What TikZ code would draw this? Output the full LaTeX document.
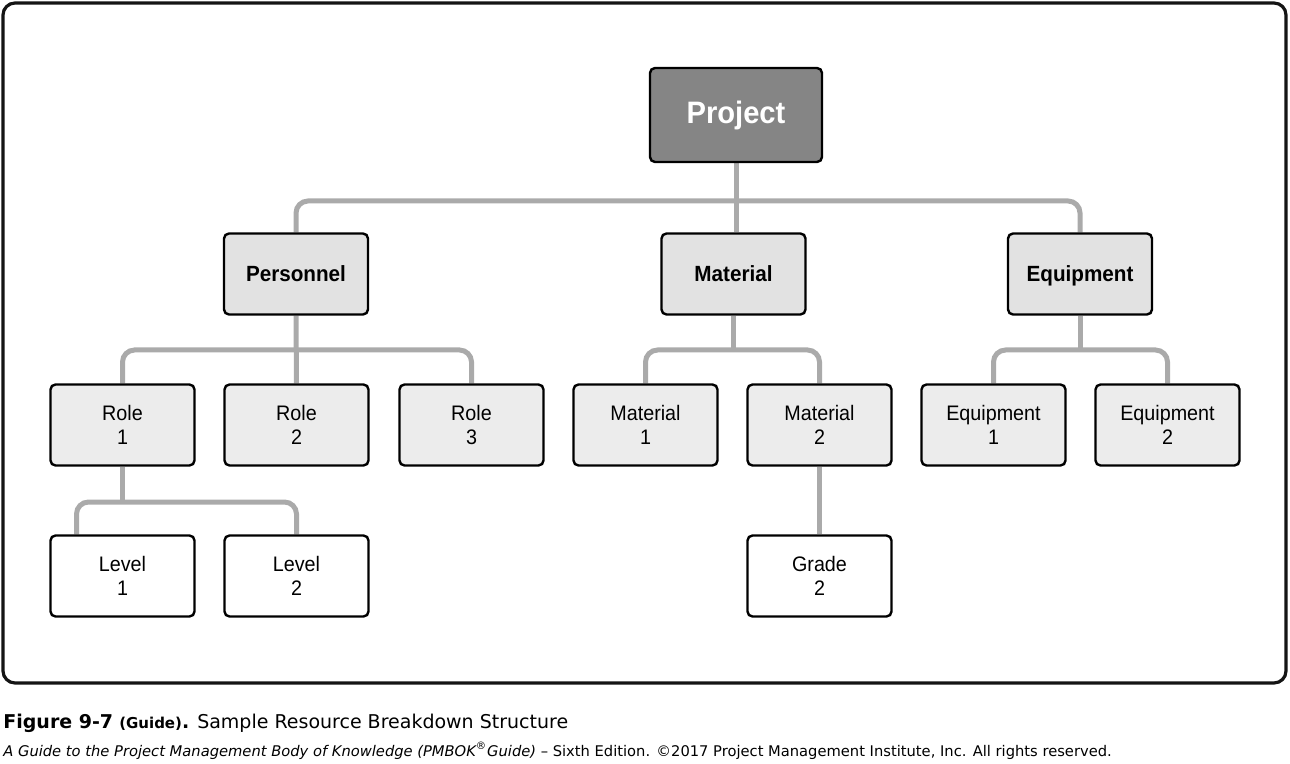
\documentclass[tikz,border=0pt]{standalone}
\usepackage{fontspec}
\setmainfont{Liberation Sans}
\newfontfamily\boxfont[FakeStretch=0.94]{Liberation Sans}
\newfontfamily\capfont{DejaVu Sans}
\usetikzlibrary{backgrounds}
\definecolor{rbsframe}{RGB}{20,20,20}
\definecolor{rbslink}{RGB}{170,170,170}
\definecolor{rbstop}{RGB}{133,133,133}
\definecolor{rbscat}{RGB}{226,226,226}
\definecolor{rbssub}{RGB}{236,236,236}

\begin{document}
\begin{tikzpicture}[x=0.5pt, y=-0.5pt,
  box/.style={draw=black, line width=1.2pt, rounded corners=2.5pt, minimum width=72pt, minimum height=40.5pt, align=center, inner sep=0pt},
  topbox/.style={box, fill=rbstop, text=white, minimum width=86pt, minimum height=47pt, font=\boxfont\bfseries\fontsize{15.5}{18}\selectfont},
  catbox/.style={box, fill=rbscat, text height=10.4pt, text depth=2.5pt, font=\boxfont\bfseries\fontsize{11}{13}\selectfont},
  subbox/.style={box, fill=rbssub, font=\boxfont\fontsize{10.5}{12}\selectfont},
  leafbox/.style={box, fill=white, font=\boxfont\fontsize{10.5}{12}\selectfont},
  link/.style={draw=rbslink, line width=2.5pt, rounded corners=6pt}]
  \useasboundingbox (0,0) rectangle (1290,764);
  \draw[rbsframe, line width=1.6pt, rounded corners=6pt] (3,3) rectangle (1286,683);

  % top and categories
  \node[topbox] (proj) at (736,115) {Project};
  \node[catbox] (pers) at (296,274) {Personnel};
  \node[catbox] (mat) at (733.5,274) {Material};
  \node[catbox] (equip) at (1080,274) {Equipment};

  % resources
  \node[subbox] (role1) at (122.5,425) {Role\\1};
  \node[subbox] (role2) at (296.5,425) {Role\\2};
  \node[subbox] (role3) at (471.5,425) {Role\\3};
  \node[subbox] (mat1) at (645.5,425) {Material\\1};
  \node[subbox] (mat2) at (819.5,425) {Material\\2};
  \node[subbox] (eq1) at (993.5,425) {Equipment\\1};
  \node[subbox] (eq2) at (1167.5,425) {Equipment\\2};

  % lowest level
  \node[leafbox] (lev1) at (122.5,576) {Level\\1};
  \node[leafbox] (lev2) at (296.5,576) {Level\\2};
  \node[leafbox] (grade) at (819.5,576) {Grade\\2};

  \coordinate (projbar) at (736,201);
  \coordinate (persbar) at (296,350);
  \coordinate (matbar) at (733.5,350);
  \coordinate (equipbar) at (1080,350);
  \coordinate (rolebar) at (122.5,502);

  \begin{scope}[on background layer]
    \draw[link] (proj.south) -- (proj.south |- mat.north);
    \draw[link] (pers.north) |- (projbar) -| (equip.north);
    \draw[link] (pers.south) -- (role2.north);
    \draw[link] (role1.north) |- (persbar) -| (role3.north);
    \draw[link] (mat.south) -- (matbar);
    \draw[link] (mat1.north) |- (matbar) -| (mat2.north);
    \draw[link] (equip.south) -- (equipbar);
    \draw[link] (eq1.north) |- (equipbar) -| (eq2.north);
    \draw[link] (role1.south) -- (rolebar);
    \draw[link] ([xshift=-23pt]lev1.north) |- (rolebar) -| (lev2.north);
    \draw[link] (mat2.south) -- (grade.north);
  \end{scope}

  % caption
  \node[anchor=base west, inner sep=0pt, font=\capfont\fontsize{9.5}{12}\selectfont] (figcap) at (3,728)
    {\textbf{Figure 9-7} {\bfseries\fontsize{7.5}{10}\selectfont(Guide)}\textbf{.} Sample Resource Breakdown Structure};
  \node[anchor=base west, inner sep=0pt, font=\capfont\fontsize{7.35}{10}\selectfont] (figsrc) at (3,756)
    {\textit{A Guide to the Project Management Body of Knowledge (PMBOK\textsuperscript{®}Guide)} – Sixth Edition. ©2017 Project Management Institute, Inc. All rights reserved.};
\end{tikzpicture}
\end{document}
